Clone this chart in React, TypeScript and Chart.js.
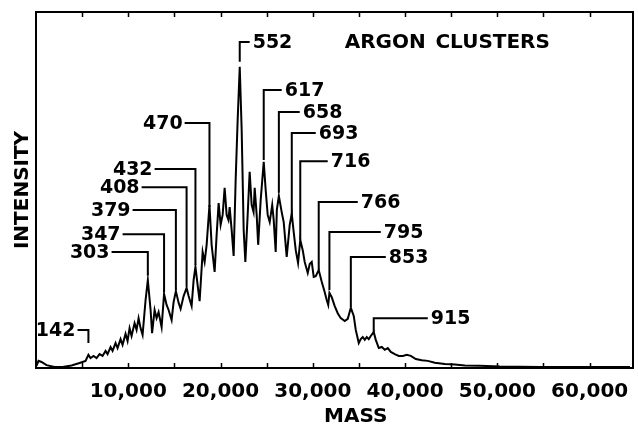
import React, { useEffect, useRef } from 'react';
import { Chart, registerables } from 'chart.js';

Chart.register(...registerables);

// Spectrum trace: mass (amu) and relative intensity
const massValues = [
  54, 271, 597, 1139, 2007, 2874, 3850, 4718, 5369, 5680,
  5911, 6236, 6562, 6887, 7213, 7538, 7755, 8080, 8297, 8623,
  8839, 9165, 9382, 9707, 9924, 10141, 10358, 10683, 10900, 11117,
  11334, 11551, 11876, 12120, 12419, 12581, 12853, 13069, 13286, 13612,
  13880, 14154, 14371, 14696, 14913, 15160, 15456, 15672, 15998, 16320,
  16540, 16865, 17082, 17280, 17516, 17733, 18060, 18275, 18492, 18800,
  19034, 19359, 19576, 19793, 20010, 20227, 20444, 20661, 20856, 20987,
  21203, 21420, 21638, 21855, 22080, 22289, 22506, 22688, 22940, 23156,
  23373, 23578, 23700, 23916, 24078, 24350, 24680, 24892, 25110, 25327,
  25600, 25760, 25977, 26100, 26320, 26628, 26845, 27170, 27496, 27720,
  27928, 28150, 28400, 28640, 28906, 29122, 29450, 29665, 29882, 30098,
  30316, 30640, 30965, 31291, 31507, 31670, 31800, 32050, 32375, 32700,
  33026, 33460, 33785, 34120, 34437, 34654, 34980, 35196, 35413, 35630,
  35847, 36064, 36280, 36600, 36823, 37150, 37474, 37800, 38125, 38450,
  38883, 39317, 39752, 40185, 40620, 41160, 41811, 42460, 43222, 44305,
  45390, 46475, 48100, 50270, 54610, 58950, 64370,
];

const intensityValues = [
  0.6, 2.0, 1.7, 0.8, 0.3, 0.3, 0.7, 1.4, 2.0, 3.7,
  2.8, 3.4, 2.8, 3.9, 3.4, 4.8, 3.9, 5.9, 4.8, 7.0,
  5.6, 8.1, 6.5, 9.6, 7.6, 11.2, 9.0, 12.6, 10.7, 14.0,
  11.2, 9.3, 19.1, 24.7, 16.3, 9.8, 16.3, 14.0, 15.7, 11.5,
  20.8, 17.7, 16.3, 13.5, 18.5, 21.6, 18.3, 16.6, 20.2, 22.5,
  20.2, 17.4, 24.7, 28.4, 23.3, 18.8, 32.6, 29.8, 34.6, 45.8,
  34.6, 27.0, 37.4, 46.3, 40.2, 43.0, 50.6, 43.0, 41.6, 45.2,
  38.8, 31.5, 52.8, 69.7, 84.6, 66.9, 38.8, 29.8, 43.0, 55.1,
  45.8, 43.8, 50.6, 43.0, 34.6, 47.2, 57.9, 50.0, 43.0, 41.0,
  45.8, 41.6, 32.6, 44.4, 48.3, 43.8, 41.0, 31.2, 40.2, 43.3,
  38.2, 33.1, 29.5, 36.0, 33.1, 29.8, 26.7, 29.2, 29.8, 25.6,
  25.8, 27.5, 24.2, 21.3, 19.1, 17.7, 21.1, 19.9, 17.4, 15.4,
  14.0, 13.2, 13.8, 16.9, 14.6, 10.7, 7.0, 8.1, 8.7, 7.9,
  8.7, 8.1, 9.0, 10.1, 7.9, 5.6, 5.9, 5.1, 5.6, 4.5,
  3.9, 3.4, 3.4, 3.7, 3.4, 2.5, 2.2, 2.0, 1.5, 1.1,
  1.0, 0.7, 0.6, 0.4, 0.3, 0.3, 0.3,
];

// Labelled cluster sizes (peak mass = 40 × n for argon)
const peakSizes = [142, 303, 347, 379, 408, 432, 470, 552, 617, 658, 693, 716, 766, 795, 853, 915];
const peakSides = ['left', 'left', 'left', 'left', 'left', 'left', 'left', 'right', 'right', 'right', 'right', 'right', 'right', 'right', 'right', 'right'];
// leader line: horizontal level (intensity), outer end (mass), stem bottom (intensity)
const leaderLevels = [10.7, 32.6, 37.6, 44.4, 50.8, 55.9, 68.8, 91.6, 78.1, 71.9, 66.0, 58.1, 46.6, 38.2, 31.2, 14.0];
const leaderEnds = [4501, 8189, 9382, 10466, 11443, 12852, 16106, 23156, 26628, 28580, 30316, 31616, 34870, 37364, 37906, 42460];
const leaderStemEnds = [7.0, 26.0, 21.3, 21.9, 22.8, 28.9, 45.2, 86.0, 58.4, 49.2, 42.1, 36.0, 27.5, 21.9, 17.1, 10.1];

// x-axis ticks (every 5,000) and which of them carry a label
const xTickValues = [5000, 10000, 15000, 20000, 25000, 30000, 35000, 40000, 45000, 50000, 55000, 60000];
const xTickLabels = [10000, 20000, 30000, 40000, 50000, 60000];
const ARGON_MASS = 40;
const titleWords = ['ARGON', 'CLUSTERS'];
const xTitle = 'MASS';
const yTitle = 'INTENSITY';

const FONT = '"DejaVu Sans", sans-serif';

const fmt = (v: number) => String(v).replace(/\B(?=(\d{3})+(?!\d))/g, ',');

export default function App() {
  const ref = useRef<HTMLCanvasElement>(null);

  useEffect(() => {
    if (!ref.current) return;

    const annotate = {
      id: 'annotate',
      afterDatasetsDraw(chart: any) {
        const { ctx, chartArea: ca, scales } = chart;
        const x = scales.x;
        const y = scales.y;
        ctx.save();
        ctx.strokeStyle = '#000';
        ctx.fillStyle = '#000';

        // frame
        ctx.lineWidth = 2;
        ctx.strokeRect(ca.left, ca.top, ca.right - ca.left, ca.bottom - ca.top);

        // inward ticks top & bottom
        ctx.lineWidth = 1.5;
        xTickValues.forEach((v) => {
          const px = Math.round(x.getPixelForValue(v)) + 0.5;
          ctx.beginPath();
          ctx.moveTo(px, ca.bottom);
          ctx.lineTo(px, ca.bottom - 5);
          ctx.moveTo(px, ca.top);
          ctx.lineTo(px, ca.top + 5);
          ctx.stroke();
        });

        // leader lines and labels
        ctx.lineWidth = 2;
        ctx.font = `bold 19px ${FONT}`;
        ctx.textBaseline = 'middle';
        peakSizes.forEach((n, i) => {
          const px = x.getPixelForValue(n * ARGON_MASS);
          const ly = y.getPixelForValue(leaderLevels[i]);
          const ex = x.getPixelForValue(leaderEnds[i]);
          const sy = y.getPixelForValue(leaderStemEnds[i]);
          ctx.beginPath();
          ctx.moveTo(ex, ly);
          ctx.lineTo(px, ly);
          ctx.lineTo(px, sy);
          ctx.stroke();
          if (peakSides[i] === 'left') {
            ctx.textAlign = 'right';
            ctx.fillText(String(n), ex - 2, ly + 1);
          } else {
            ctx.textAlign = 'left';
            ctx.fillText(String(n), ex + 3, ly + 1);
          }
        });

        // chart title
        ctx.font = `bold 20px ${FONT}`;
        const ty = y.getPixelForValue(91.6) + 1;
        ctx.textAlign = 'left';
        ctx.fillText(titleWords[0], x.getPixelForValue(33460), ty);
        ctx.textAlign = 'right';
        ctx.fillText(titleWords[1], x.getPixelForValue(55695), ty);

        // x-axis title
        ctx.textAlign = 'center';
        ctx.fillText(xTitle, x.getPixelForValue(34650), ca.bottom + 49);
        ctx.restore();
      },
    };

    const chart = new Chart(ref.current, {
      type: 'line',
      data: {
        datasets: [
          {
            data: massValues.map((m, i) => ({ x: m, y: intensityValues[i] })),
            borderColor: '#000',
            borderWidth: 2,
            pointRadius: 0,
            tension: 0,
            fill: false,
          },
        ],
      },
      options: {
        animation: false,
        responsive: true,
        maintainAspectRatio: false,
        layout: { padding: { top: 12, right: 5, left: 0, bottom: 0 } },
        plugins: { legend: { display: false }, tooltip: { enabled: false } },
        scales: {
          x: {
            type: 'linear',
            min: 0,
            max: 64700,
            grid: { display: false },
            border: { display: false },
            afterBuildTicks: (s: any) => {
              s.ticks = xTickValues.map((v) => ({ value: v }));
            },
            afterFit: (s: any) => {
              s.height = 56;
            },
            ticks: {
              autoSkip: false,
              maxRotation: 0,
              minRotation: 0,
              padding: 4,
              color: '#000',
              font: { family: FONT, size: 20, weight: 'bold' },
              callback: (v: any) => (xTickLabels.includes(Number(v)) ? fmt(Number(v)) : ''),
            },
          },
          y: {
            min: 0,
            max: 100,
            grid: { display: false },
            border: { display: false },
            ticks: { display: false },
            afterFit: (s: any) => {
              s.width = 36;
            },
            title: {
              display: true,
              text: yTitle,
              color: '#000',
              font: { family: FONT, size: 20, weight: 'bold' },
              padding: { top: 11, bottom: 0 },
            },
          },
        },
      },
      plugins: [annotate],
    });

    return () => chart.destroy();
  }, []);

  return (
    <div style={{ position: 'fixed', left: 0, top: 0, width: 638, height: 424, background: '#fff' }}>
      <canvas ref={ref} />
    </div>
  );
}
